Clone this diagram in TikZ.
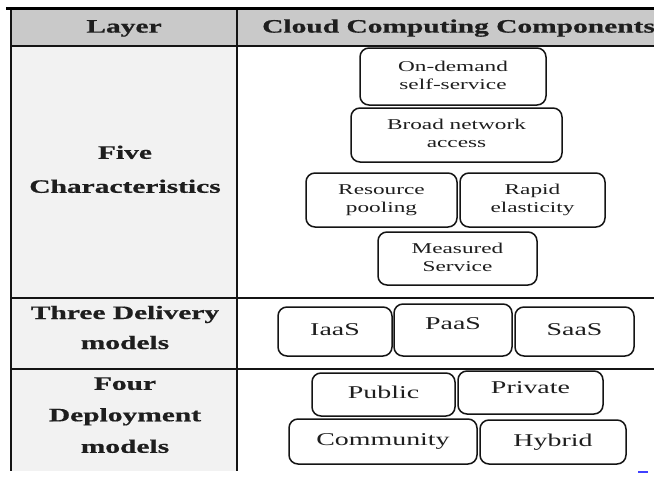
\documentclass[tikz,border=0pt]{standalone}
\usepackage{fontspec}
\setmainfont{Liberation Serif}[BoldFeatures={FakeBold=0.6}]
\usepackage{graphicx}
% wide (horizontally stretched) centred text block
\newcommand{\wtext}[1]{\scalebox{1.55}[1]{\begin{tabular}{@{}c@{}}#1\end{tabular}}}
\definecolor{headgray}{RGB}{201,201,201}
\definecolor{leftgray}{RGB}{242,242,242}
\definecolor{edge}{RGB}{20,20,20}
\definecolor{ink}{RGB}{30,30,30}
\tikzset{
  rule/.style={draw=edge, line width=1.5pt},
  headtext/.style={inner sep=0pt, text=ink, font=\bfseries\fontsize{19}{23}\selectfont},
  layertext/.style={inner sep=0pt, text=ink},
  comp/.style={draw=edge, fill=white, line width=1.5pt, rounded corners=9pt,
    inner sep=0pt, text=ink},
  compsmall/.style={comp, font=\fontsize{15}{18}\selectfont},
  complarge/.style={comp, font=\fontsize{18}{22}\selectfont},
}
\begin{document}
\begin{tikzpicture}[x=1pt,y=-1pt]
\useasboundingbox (0,0) rectangle (654,477);
\clip (0,0) rectangle (654,477);

% table background
\fill[headgray] (11,10) rectangle (654,46);
\fill[leftgray] (11,46) rectangle (237,471);

% table rules
\draw[line width=3pt, black] (6,8.5) -- (654,8.5);
\draw[rule] (11,10) -- (11,471);
\draw[rule] (237,10) -- (237,471);
\draw[rule] (11,46) -- (654,46);
\draw[rule] (11,298) -- (654,298);
\draw[rule] (11,369) -- (654,369);

% header
\node[headtext] (layer) at (124,28) {\wtext{Layer}};
\node[headtext, anchor=west] (components) at (262,28) {\wtext{Cloud Computing Components}};

% layer names
\node[layertext, font=\bfseries\fontsize{19}{34}\selectfont] (five) at (125,169)
  {\wtext{Five\\Characteristics}};
\node[layertext, font=\bfseries\fontsize{19}{30}\selectfont] (delivery) at (125,328)
  {\wtext{Three Delivery\\models}};
\node[layertext, font=\bfseries\fontsize{19}{31.5}\selectfont] (deployment) at (125,415)
  {\wtext{Four\\Deployment\\models}};

% five characteristics
\node[compsmall, minimum width=186pt, minimum height=57pt] (ondemand) at (453,76.5)
  {\wtext{On-demand\\self-service}};
\node[compsmall, minimum width=211pt, minimum height=54pt] (broad) at (456.5,135)
  {\wtext{Broad network\\access}};
\node[compsmall, minimum width=151pt, minimum height=54pt] (pooling) at (381.5,200)
  {\wtext{Resource\\pooling}};
\node[compsmall, minimum width=145pt, minimum height=54pt] (rapid) at (532.5,200)
  {\wtext{Rapid\\elasticity}};
\node[compsmall, minimum width=159pt, minimum height=53pt] (measured) at (457.5,258.5)
  {\wtext{Measured\\Service}};

% three delivery models
\node[complarge, minimum width=114pt, minimum height=49pt] (iaas) at (335,331.5) {\wtext{IaaS}};
\node[complarge, minimum width=118pt, minimum height=52pt, text depth=16pt] (paas) at (453,330) {\wtext{PaaS}};
\node[complarge, minimum width=119pt, minimum height=49pt] (saas) at (574.5,331.5) {\wtext{SaaS}};

% four deployment models
\node[complarge, minimum width=143pt, minimum height=43pt] (public) at (383.5,394.5) {\wtext{Public}};
\node[complarge, minimum width=145pt, minimum height=43pt, text depth=14pt] (private) at (530.5,392.5) {\wtext{Private}};
\node[complarge, minimum width=188pt, minimum height=45pt] (community) at (383,441.5) {\wtext{Community}};
\node[complarge, minimum width=146pt, minimum height=44pt] (hybrid) at (553,442) {\wtext{Hybrid}};

% small blue mark at the lower right
\draw[blue!75, line width=1.5pt] (638,472) -- (648,472);
\end{tikzpicture}
\end{document}
